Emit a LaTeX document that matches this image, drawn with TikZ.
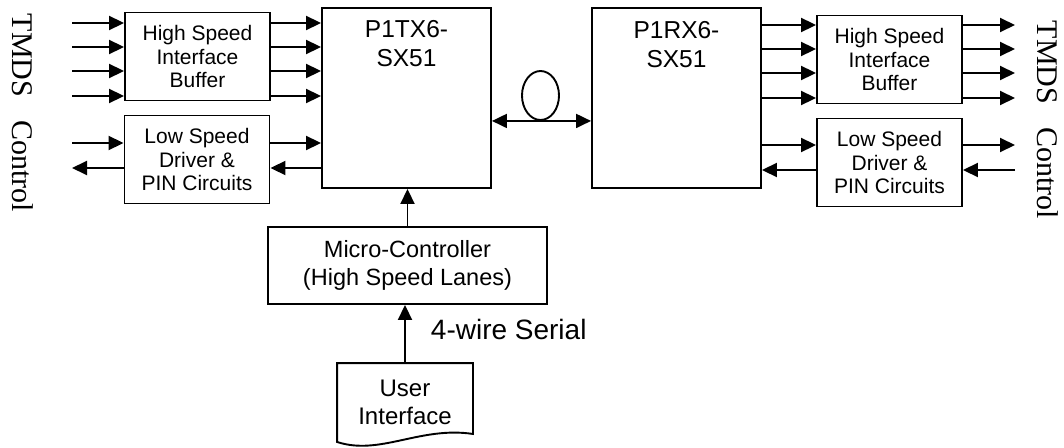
\documentclass[tikz,border=0pt]{standalone}
\usepackage{fontspec}
\setmainfont{Liberation Sans}
\newfontfamily\tmdsfont{Liberation Serif}
\usetikzlibrary{arrows.meta,positioning,shapes.geometric}

\begin{document}
\begin{tikzpicture}[x=1pt,y=-1pt,line width=1.9pt,
  box/.style={draw, align=center, font=\fontsize{21}{23.5}\selectfont, minimum width=145pt, minimum height=88pt, inner sep=0pt},
  chip/.style={draw, minimum width=169pt, minimum height=180pt},
  chipname/.style={align=center, inner sep=0pt, font=\fontsize{24.5}{29.5}\selectfont},
  side/.style={rotate=-90, anchor=west, inner sep=0pt, font=\tmdsfont\fontsize{30}{30}\selectfont},
  arr/.style={-{Triangle[length=15pt,width=14pt]}},
  darr/.style={{Triangle[length=15pt,width=14pt]}-{Triangle[length=15pt,width=14pt]}}]
\useasboundingbox (0,0) rectangle (1064,447);
\node[side] (tmdsleft) at (23,13) {TMDS\hspace{23pt}Control};
\node[side] (tmdsright) at (1048,20) {TMDS\hspace{23pt}Control};
\coordinate (tmdsl) at (72,0);
\coordinate (tmdsr) at (1015,0);
\node[box] (hsl) at (197.5,56.5) {High Speed\\Interface\\Buffer};
\node[box] (lsl) at (197,159.5) {Low Speed\\Driver \&\\PIN Circuits};
\node[box] (hsr) at (889.5,59.5) {High Speed\\Interface\\Buffer};
\node[box] (lsr) at (889.5,162.5) {Low Speed\\Driver \&\\PIN Circuits};
\node[chip] (tx) at (406.5,98) {};
\node[chip] (rx) at (676.5,98) {};
\node[chipname, below=12pt of tx.north] (txname) {P1TX6-\\SX51};
\node[chipname, below=13pt of rx.north] (rxname) {P1RX6-\\SX51};
\node[draw, ellipse, minimum width=37pt, minimum height=49pt, inner sep=0pt] (loop) at (540.5,95.5) {};
\node[draw, minimum width=279pt, minimum height=77pt, align=center, font=\fontsize{23.5}{28}\selectfont] (mc) at (407.5,265.5) {Micro-Controller\\(High Speed Lanes)};
\node[minimum width=134pt, minimum height=77pt, align=center, inner sep=0pt, font=\fontsize{24}{28}\selectfont] (ui) at (405,402.5) {User\\Interface};
\draw (ui.north west) -- (ui.north east) -- ([yshift=8pt]ui.south east) .. controls (420,426) and (380,456) .. (ui.south west) -- cycle;
\node[anchor=base west, inner sep=0pt, font=\fontsize{28}{30}\selectfont] (serial) at (430,339) {4-wire Serial};
% left side
\draw[arr] (tmdsl |- 0,23) -- (hsl.west |- 0,23);
\draw[arr] (tmdsl |- 0,47) -- (hsl.west |- 0,47);
\draw[arr] (tmdsl |- 0,71) -- (hsl.west |- 0,71);
\draw[arr] (tmdsl |- 0,96) -- (hsl.west |- 0,96);
\draw[arr] (hsl.east |- 0,23) -- (tx.west |- 0,23);
\draw[arr] (hsl.east |- 0,47) -- (tx.west |- 0,47);
\draw[arr] (hsl.east |- 0,71) -- (tx.west |- 0,71);
\draw[arr] (hsl.east |- 0,96) -- (tx.west |- 0,96);
\draw[arr] (tmdsl |- 0,143) -- (lsl.west |- 0,143);
\draw[arr] (lsl.west |- 0,168) -- (tmdsl |- 0,168);
\draw[arr] (lsl.east |- 0,143) -- (tx.west |- 0,143);
\draw[arr] (tx.west |- 0,168) -- (lsl.east |- 0,168);
% right side
\draw[arr] (rx.east |- 0,25) -- (hsr.west |- 0,25);
\draw[arr] (rx.east |- 0,49) -- (hsr.west |- 0,49);
\draw[arr] (rx.east |- 0,73) -- (hsr.west |- 0,73);
\draw[arr] (rx.east |- 0,98) -- (hsr.west |- 0,98);
\draw[arr] (hsr.east |- 0,25) -- (tmdsr |- 0,25);
\draw[arr] (hsr.east |- 0,49) -- (tmdsr |- 0,49);
\draw[arr] (hsr.east |- 0,73) -- (tmdsr |- 0,73);
\draw[arr] (hsr.east |- 0,98) -- (tmdsr |- 0,98);
\draw[arr] (rx.east |- 0,145) -- (lsr.west |- 0,145);
\draw[arr] (lsr.west |- 0,170) -- (rx.east |- 0,170);
\draw[arr] (lsr.east |- 0,145) -- (tmdsr |- 0,145);
\draw[arr] (tmdsr |- 0,170) -- (lsr.east |- 0,170);
% fibre and control
\draw[darr] (tx.east |- loop.south) -- (rx.west |- loop.south);
\draw[arr] (mc.north) -- (mc.north |- tx.south);
\draw[arr] (ui.north) -- (ui.north |- mc.south);
\end{tikzpicture}
\end{document}
